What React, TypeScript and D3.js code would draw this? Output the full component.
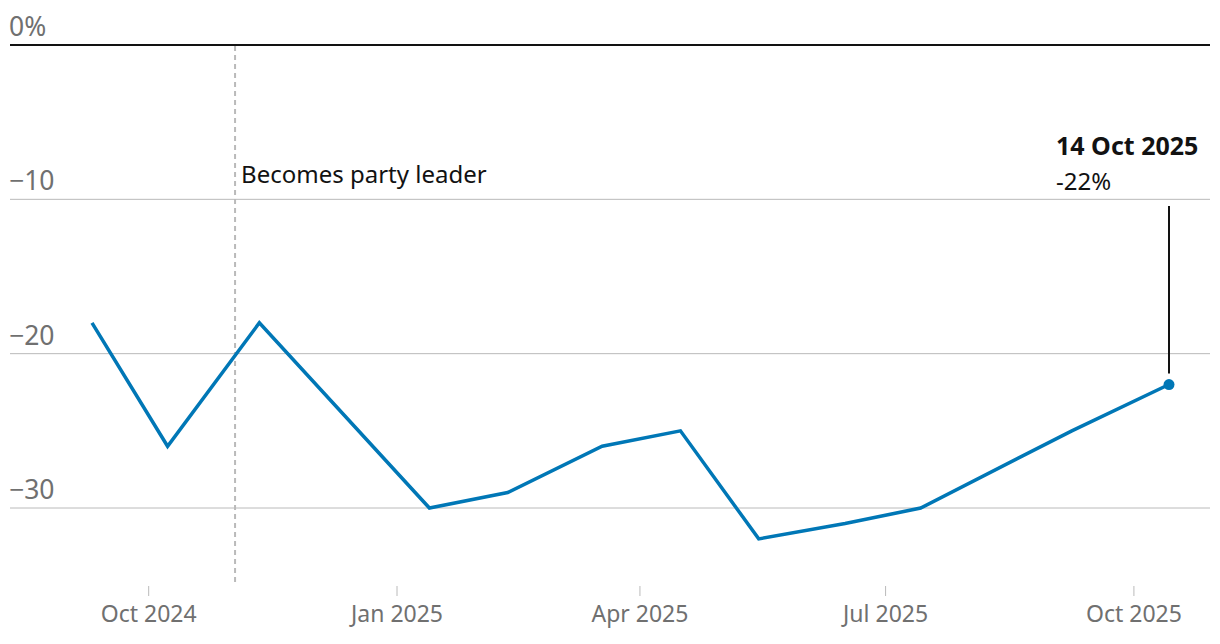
import React from "react";
import * as d3 from "d3";

const pollDates = [
  "2024-09-10", "2024-10-08", "2024-11-11", "2025-01-13", "2025-02-11", "2025-03-18",
  "2025-04-16", "2025-05-15", "2025-06-16", "2025-07-14", "2025-09-08", "2025-10-14",
];
const netRatings = [-18, -26, -18, -30, -29, -26, -25, -32, -31, -30, -25, -22];
const yTicks = [0, -10, -20, -30];
const yTickLabels = ["0%", "\u221210", "\u221220", "\u221230"];
const xTickDates = ["2024-10-01", "2025-01-01", "2025-04-01", "2025-07-01", "2025-10-01"];
const xTickLabels = ["Oct 2024", "Jan 2025", "Apr 2025", "Jul 2025", "Oct 2025"];
const eventDate = "2024-11-02";
const eventLabel = "Becomes party leader";
const lastLabelDate = "14 Oct 2025";
const lastLabelValue = "-22%";

const W = 1220;
const H = 644;
const FONT = "'Noto Sans', sans-serif";

export default function App() {
  const parse = d3.utcParse("%Y-%m-%d");
  const dates = pollDates.map((d) => parse(d) as Date);
  const data = dates.map((d, i) => ({ date: d, value: netRatings[i] }));

  const x = d3.scaleUtc().domain([dates[0], dates[dates.length - 1]]).range([92, 1169]);
  const y = d3.scaleLinear().domain([0, -30]).range([45, 508]);

  const line = d3
    .line<{ date: Date; value: number }>()
    .x((d) => x(d.date))
    .y((d) => y(d.value));

  const last = data[data.length - 1];
  const ex = x(parse(eventDate) as Date);

  return (
    <svg
      width={W}
      height={H}
      style={{ position: "absolute", left: 0, top: 0, background: "#fff" }}
      fontFamily={FONT}
    >
      {yTicks.map((t, i) => (
        <g key={t}>
          <line
            x1={10}
            x2={1210}
            y1={y(t)}
            y2={y(t)}
            stroke={t === 0 ? "#121212" : "#bababa"}
            strokeWidth={t === 0 ? 2 : 1}
          />
          <text x={9} y={y(t) - 9} fontSize={26.5} fill="#707070">
            {yTickLabels[i]}
          </text>
        </g>
      ))}

      <line
        x1={ex}
        x2={ex}
        y1={y(0) + 1}
        y2={585}
        stroke="#bababa"
        strokeWidth={2}
        strokeDasharray="5,4"
      />
      <text x={ex + 6} y={183} fontSize={24} fill="#121212">
        {eventLabel}
      </text>

      {xTickDates.map((d, i) => {
        const xx = x(parse(d) as Date);
        return (
          <g key={d}>
            <line x1={xx} x2={xx} y1={586} y2={596} stroke="#bababa" strokeWidth={1} />
            <text x={xx} y={622} fontSize={23} fill="#707070" textAnchor="middle">
              {xTickLabels[i]}
            </text>
          </g>
        );
      })}

      <path d={line(data) || ""} fill="none" stroke="#0077b6" strokeWidth={3.5} strokeLinejoin="miter" />

      <line
        x1={x(last.date)}
        x2={x(last.date)}
        y1={206}
        y2={y(last.value) - 11}
        stroke="#121212"
        strokeWidth={2}
      />
      <circle cx={x(last.date)} cy={y(last.value)} r={5.5} fill="#0077b6" />
      <text x={1056} y={155} fontSize={25} fontWeight={700} fill="#121212">
        {lastLabelDate}
      </text>
      <text x={1056} y={190} fontSize={24} fill="#121212">
        {lastLabelValue}
      </text>
    </svg>
  );
}
